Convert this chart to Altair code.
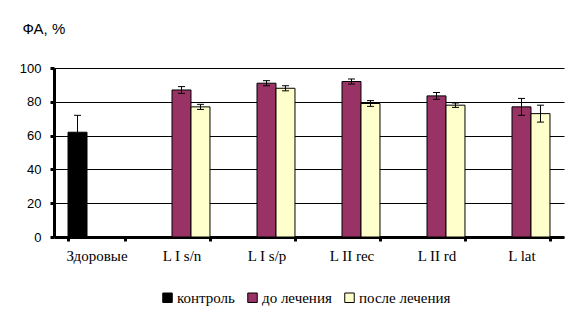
import altair as alt
import pandas as pd

categories = ["Здоровые", "L I s/n", "L I s/p", "L II rec", "L II rd", "L lat"]
series = ["контроль", "до лечения", "после лечения"]
colors = ["#000000", "#993366", "#FFFFCC"]

control_values = [62, None, None, None, None, None]
control_errors = [10, None, None, None, None, None]
before_values = [None, 87, 91, 92, 83.5, 77]
before_errors = [None, 2, 1.5, 1.5, 2, 5]
after_values = [None, 77, 88, 79, 78, 73]
after_errors = [None, 1.5, 1.5, 1.7, 1.3, 5]
y_ticks = [0, 20, 40, 60, 80, 100]

rows = []
for s, vals, errs in [(series[0], control_values, control_errors),
                      (series[1], before_values, before_errors),
                      (series[2], after_values, after_errors)]:
    for c, v, e in zip(categories, vals, errs):
        if v is not None:
            rows.append({"cat": c, "series": s, "value": v, "lo": v - e, "hi": v + e})
df = pd.DataFrame(rows)

SERIF = "Liberation Serif, Times New Roman, serif"
SANS = "Liberation Sans, Arial, sans-serif"

x_axis = alt.Axis(title=None, labelAngle=0, tickBand="extent", grid=False,
                  domainWidth=3, domainColor="black", tickColor="black",
                  tickWidth=3, tickSize=4, labelFont=SERIF,
                  labelFontSize=15, labelColor="black", labelPadding=7,
                  labelOverlap=False)
x_enc = alt.X("cat:N", sort=categories,
              scale=alt.Scale(domain=categories, paddingInner=0.33, paddingOuter=0.165),
              axis=x_axis)
xoff = alt.XOffset("series:N", scale=alt.Scale(domain=series, paddingInner=0, paddingOuter=0))

y_scale = alt.Scale(domain=[0, 100], nice=False, zero=True)
y_axis = alt.Axis(values=y_ticks, tickCount=20, title="ФА, %", titleAngle=0,
                  titleAlign="left", titleBaseline="middle", titleX=-32, titleY=-40,
                  titleFont=SANS, titleFontSize=15, titleFontWeight="normal",
                  titleColor="black", labelOverlap=False,
                  labelFont=SANS, labelFontSize=13, labelColor="black",
                  grid=True, gridColor="black", gridWidth=1, gridOpacity=1,
                  domainWidth=3, domainColor="black", tickColor="black",
                  tickWidth=3, tickSize=4, labelPadding=9)

bars = alt.Chart(df).mark_bar(stroke="black", strokeWidth=1, opacity=1).encode(
    x=x_enc,
    xOffset=xoff,
    y=alt.Y("value:Q", scale=y_scale, axis=y_axis),
    color=alt.Color("series:N", scale=alt.Scale(domain=series, range=colors),
                    legend=alt.Legend(title=None, orient="none", direction="horizontal",
                                      legendX=106, legendY=222, symbolType="square",
                                      symbolSize=90, symbolStrokeColor="black",
                                      symbolStrokeWidth=1, symbolOpacity=1,
                                      labelFont=SERIF, labelFontSize=15,
                                      labelColor="black", labelOffset=2, columnPadding=10)),
)

err_rule = alt.Chart(df).mark_rule(color="black", strokeWidth=1).encode(
    x=x_enc, xOffset=xoff,
    y=alt.Y("lo:Q", scale=y_scale, axis=y_axis), y2="hi:Q")

cap_hi = alt.Chart(df).mark_tick(color="black", thickness=1, size=7, opacity=1).encode(
    x=x_enc, xOffset=xoff,
    y=alt.Y("hi:Q", scale=y_scale, axis=y_axis))
cap_lo = alt.Chart(df).mark_tick(color="black", thickness=1, size=7, opacity=1).encode(
    x=x_enc, xOffset=xoff,
    y=alt.Y("lo:Q", scale=y_scale, axis=y_axis))

chart = alt.layer(bars, err_rule, cap_hi, cap_lo).properties(
    width=510, height=169,
    autosize=alt.AutoSizeParams(type="none"),
    padding={"left": 54, "top": 68, "right": 16, "bottom": 80},
    background="white",
).configure_view(stroke=None)

chart.save("out.html", embed_options={"renderer": "svg", "actions": False})
